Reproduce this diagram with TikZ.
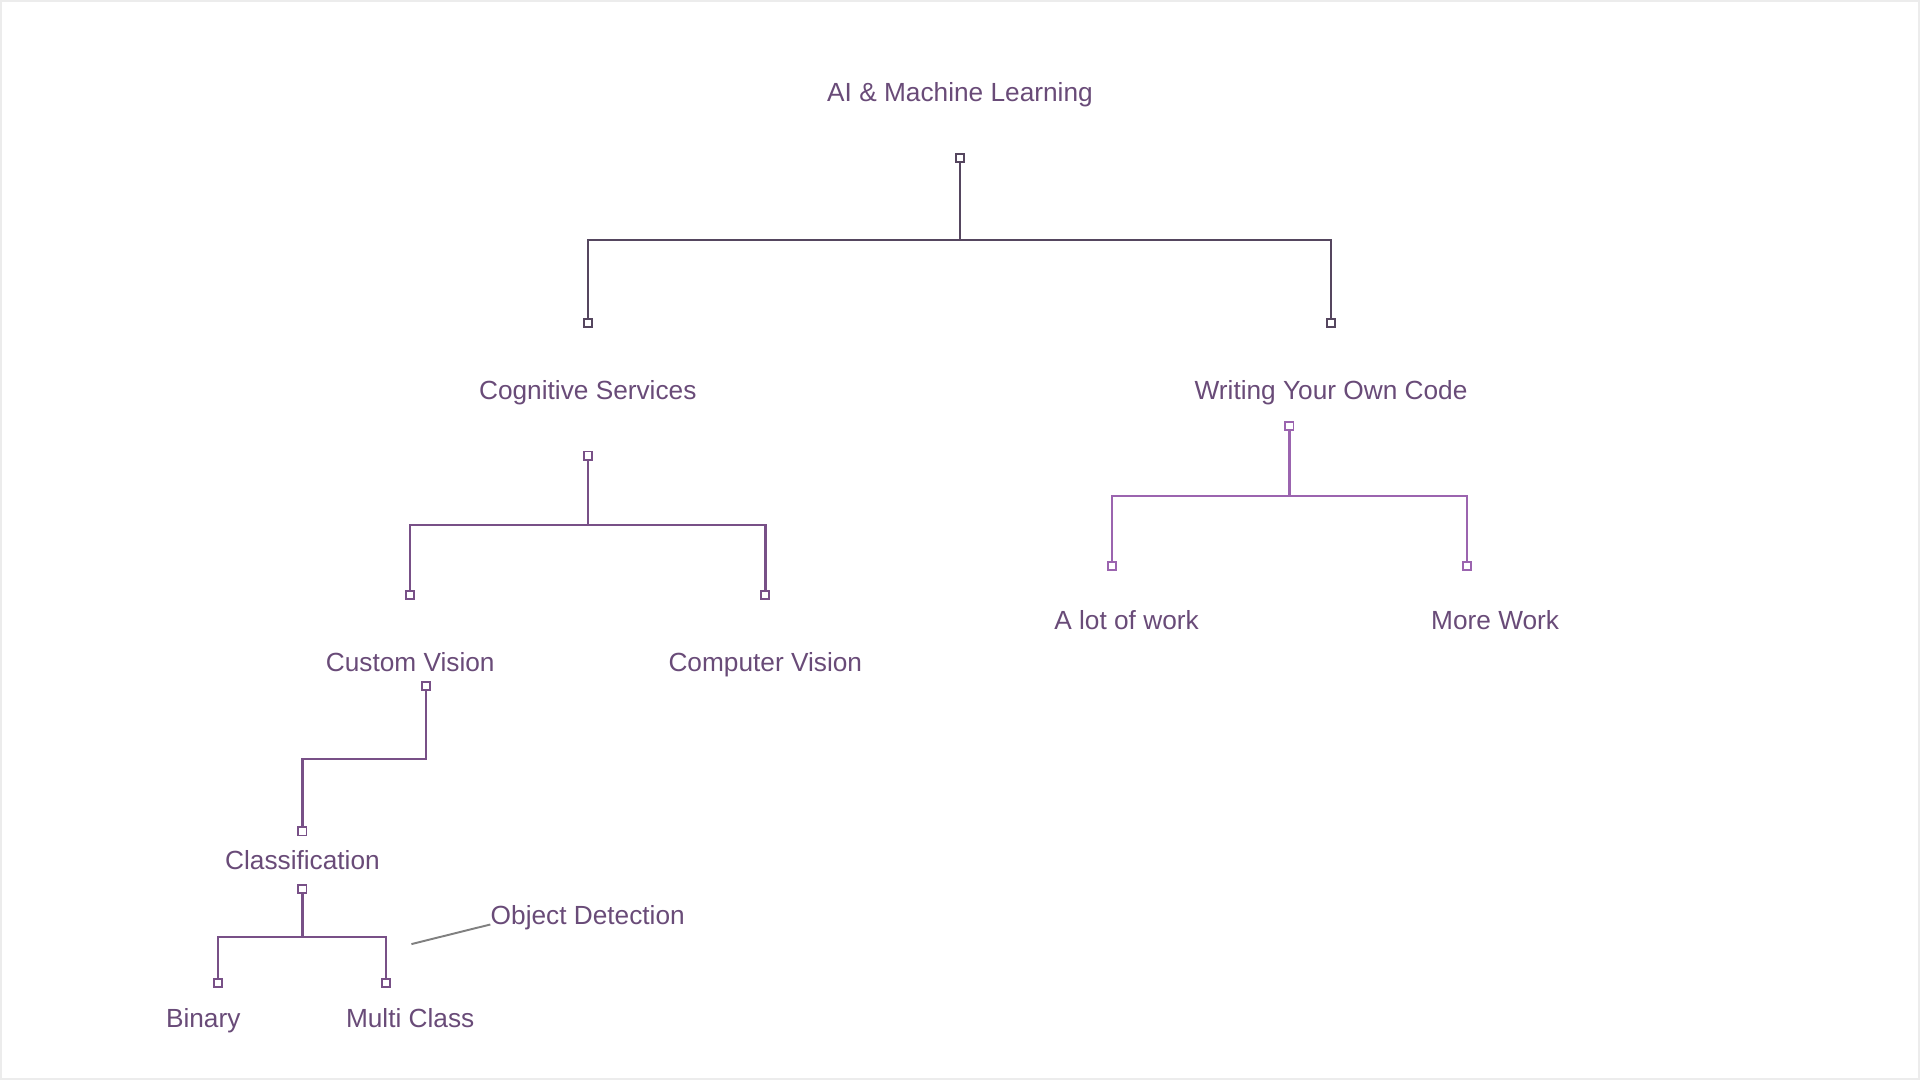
\documentclass[tikz,border=0pt]{standalone}
\usepackage{fontspec}
\setmainfont{Liberation Sans}
\usepackage{tikz}
\usetikzlibrary{positioning}
\definecolor{mytext}{RGB}{105,75,120}
\definecolor{mytop}{RGB}{85,70,95}
\definecolor{mymid}{RGB}{120,80,135}
\definecolor{mylight}{RGB}{155,100,175}
\definecolor{myframe}{RGB}{236,236,236}

\begin{document}
\begin{tikzpicture}[x=0.02cm, y=-0.02cm,
    lbl/.style={text=mytext, font=\fontsize{12.2}{14}\selectfont, anchor=base, inner sep=0pt},
    pin/.style={draw, fill=white, minimum size=3.8pt, inner sep=0pt, line width=0.85pt},
    link/.style={line width=1.1pt}]
    \useasboundingbox (0,0) rectangle (1568,882);
    \draw[myframe, line width=2pt] (0,0) rectangle (1568,882);

    \node[lbl] (ai) at (784,83) {AI \& Machine Learning};
    \node[lbl] (cog) at (480,326) {Cognitive Services};
    \node[lbl] (code) at (1087,326) {Writing Your Own Code};
    \node[lbl] (cust) at (335,548) {Custom Vision};
    \node[lbl] (comp) at (625,548) {Computer Vision};
    \node[lbl] (lot) at (920,514) {A lot of work};
    \node[lbl] (more) at (1221,514) {More Work};
    \node[lbl] (cls) at (247,710) {Classification};
    \node[lbl] (od) at (480,755) {Object Detection};
    \node[lbl] (bin) at (166,839) {Binary};
    \node[lbl] (multi) at (335,839) {Multi Class};

    % AI tree
    \node[pin, draw=mytop] (pAI) at (784,129) {};
    \node[pin, draw=mytop] (pCog) at (480,264) {};
    \node[pin, draw=mytop] (pCode) at (1087,264) {};
    \coordinate (bAI) at (784,196);
    \draw[link, mytop] (pAI) -- (bAI) -| (pCog);
    \draw[link, mytop] (bAI) -| (pCode);

    % cognitive services
    \node[pin, draw=mymid] (qCog) at (480,372) {};
    \node[pin, draw=mymid] (pCust) at (335,486) {};
    \node[pin, draw=mymid] (pComp) at (625,486) {};
    \coordinate (bCog) at (480,429);
    \draw[link, mymid] (qCog) -- (bCog) -| (pCust);
    \draw[link, mymid] (bCog) -| (pComp);

    % writing your own code
    \node[pin, draw=mylight] (qCode) at (1053,348) {};
    \node[pin, draw=mylight] (pLot) at (908,462) {};
    \node[pin, draw=mylight] (pMore) at (1198,462) {};
    \coordinate (bCode) at (1053,405);
    \draw[link, mylight] (qCode) -- (bCode) -| (pLot);
    \draw[link, mylight] (bCode) -| (pMore);

    % custom vision
    \node[pin, draw=mymid] (qCust) at (348,560) {};
    \node[pin, draw=mymid] (pCls) at (247,679) {};
    \coordinate (bCust) at (348,620);
    \draw[link, mymid] (qCust) -- (bCust) -| (pCls);

    % classification
    \node[pin, draw=mymid] (qCls) at (247,726) {};
    \node[pin, draw=mymid] (pBin) at (178,803) {};
    \node[pin, draw=mymid] (pMulti) at (315,803) {};
    \coordinate (bCls) at (247,765);
    \draw[link, mymid] (qCls) -- (bCls) -| (pBin);
    \draw[link, mymid] (bCls) -| (pMulti);

    \coordinate (odTip) at (336,771);
    \draw[line width=0.9pt, gray] (odTip) -- (od.base west);
\end{tikzpicture}
\end{document}
